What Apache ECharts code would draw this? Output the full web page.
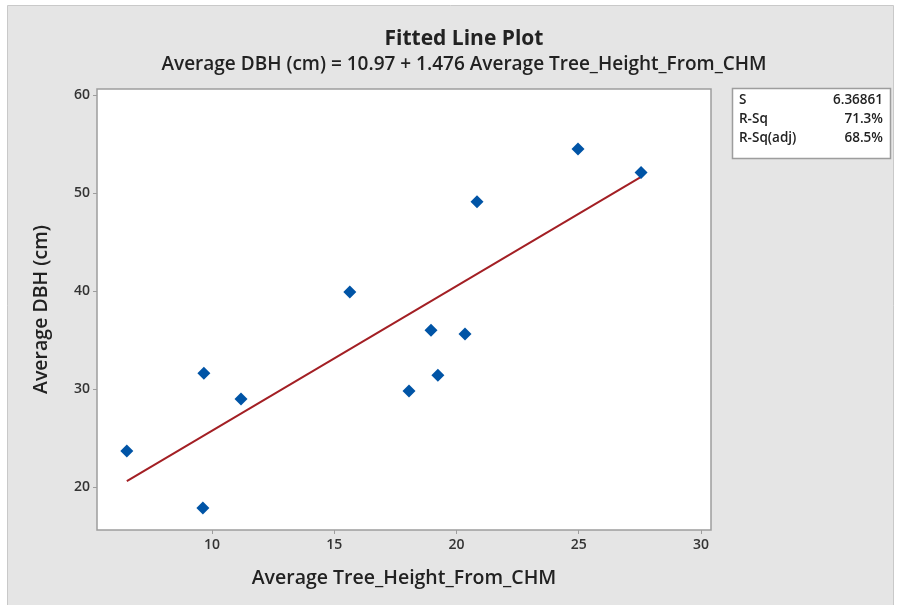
<!DOCTYPE html>
<html>
<head>
<meta charset="utf-8">
<script src="https://cdn.jsdelivr.net/npm/echarts@6/dist/echarts.min.js"></script>
<style>
html,body{margin:0;padding:0;background:#fff;}
#c{width:897px;height:605px;}
</style>
</head>
<body>
<div id="c"></div>
<script>
const treeHeight = [6.52, 9.67, 9.63, 11.19, 15.64, 18.06, 18.96, 19.24, 20.35, 20.84, 24.97, 27.55];
const avgDBH     = [23.67, 31.6, 17.86, 28.98, 39.9, 29.8, 36.0, 31.4, 35.6, 49.1, 54.5, 52.1];
// Fitted line endpoints
const fitX = [6.52, 27.55];
const fitY = [20.6, 51.65];
// Tick labels
const xTicks = [10, 15, 20, 25, 30];
const yTicks = [20, 30, 40, 50, 60];
// Summary table
const statNames  = ['S', 'R-Sq', 'R-Sq(adj)'];
const statValues = ['6.36861', '71.3%', '68.5%'];

const FONT = '"Open Sans", "Noto Sans", sans-serif';
const chart = echarts.init(document.getElementById('c'), null, {renderer: 'canvas'});

const scatterData = treeHeight.map((x, i) => [x, avgDBH[i]]);
const lineData = fitX.map((x, i) => [x, fitY[i]]);

const statGraphics = [];
statNames.forEach((n, i) => {
  statGraphics.push({type: 'text', left: 739, top: 93 + i * 19,
    style: {text: n, font: '600 13.5px ' + FONT, fill: '#222'}});
  statGraphics.push({type: 'text', right: 897 - 883, top: 93 + i * 19,
    style: {text: statValues[i], font: '600 13.5px ' + FONT, fill: '#222', textAlign: 'right'}});
});

chart.setOption({
  animation: false,
  backgroundColor: '#ffffff',
  title: [
    {text: 'Fitted Line Plot', left: 459, top: 24, textAlign: 'center',
      textStyle: {fontFamily: FONT, fontSize: 21, fontWeight: 'bold', color: '#222'}},
    {text: 'Average DBH (cm) = 10.97 + 1.476 Average Tree_Height_From_CHM', left: 459, top: 50, textAlign: 'center',
      textStyle: {fontFamily: FONT, fontSize: 19, fontWeight: 600, color: '#222'}}
  ],
  graphic: [
    {type: 'rect', z: -10, shape: {x: 7.5, y: 5.5, width: 886, height: 605}, style: {fill: '#e5e5e5', stroke: '#c9c9c9', lineWidth: 1}},
    {type: 'rect', z: -5, shape: {x: 732.5, y: 88.5, width: 158, height: 70}, style: {fill: '#ffffff', stroke: '#9d9d9d', lineWidth: 1.5}},
    ...statGraphics
  ],
  grid: {left: 97, top: 89, width: 614, height: 441, show: true, backgroundColor: '#ffffff', borderColor: '#9d9d9d', borderWidth: 1.5, containLabel: false},
  xAxis: {
    type: 'value', min: 5.3, max: 30.41,
    name: 'Average Tree_Height_From_CHM', nameLocation: 'middle', nameGap: 38,
    nameTextStyle: {fontFamily: FONT, fontSize: 19.5, fontWeight: 600, color: '#222'},
    axisLine: {show: false},
    axisTick: {show: true, length: 4, lineStyle: {color: '#9d9d9d'}, customValues: xTicks},
    axisLabel: {customValues: xTicks, fontFamily: FONT, fontSize: 14, fontWeight: 600, color: '#333', margin: 8},
    splitLine: {show: false}
  },
  yAxis: {
    type: 'value', min: 15.61, max: 60.61,
    name: 'Average DBH (cm)', nameLocation: 'middle', nameGap: 46, nameRotate: 90,
    nameTextStyle: {fontFamily: FONT, fontSize: 19.5, fontWeight: 600, color: '#222'},
    axisLine: {show: false},
    axisTick: {show: true, length: 4, lineStyle: {color: '#9d9d9d'}, customValues: yTicks},
    axisLabel: {customValues: yTicks, fontFamily: FONT, fontSize: 14, fontWeight: 600, color: '#333', margin: 7},
    splitLine: {show: false}
  },
  series: [
    {type: 'line', data: lineData, symbol: 'none', lineStyle: {color: '#a31f24', width: 2}, z: 2},
    {type: 'scatter', data: scatterData, symbol: 'diamond', symbolSize: 13, itemStyle: {color: '#0054a6', opacity: 1}, z: 3}
  ]
});
</script>
</body>
</html>
